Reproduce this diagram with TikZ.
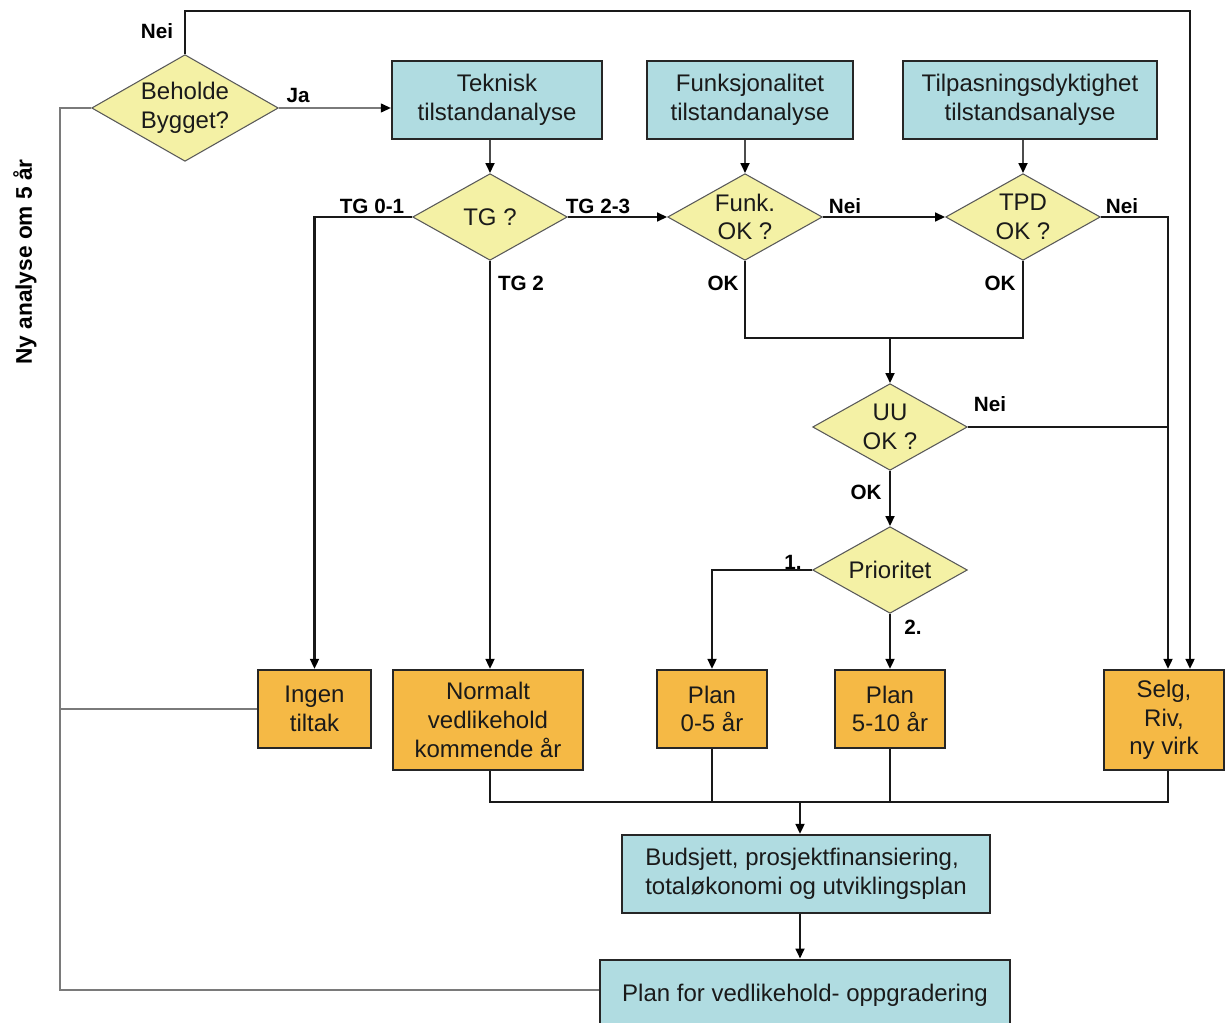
\documentclass[tikz,border=0pt]{standalone}
\usepackage{fontspec}
\setmainfont{Liberation Sans}
\usetikzlibrary{shapes.geometric,arrows.meta}
\definecolor{boxblue}{HTML}{B0DCE1}
\definecolor{dyellow}{HTML}{F4F1A5}
\definecolor{borange}{HTML}{F5B945}
\definecolor{fbgrey}{HTML}{7A7A7A}
\definecolor{inkdark}{HTML}{1A1A1A}

\begin{document}
\begin{tikzpicture}[x=0.75pt,y=-0.75pt,
  boxtext/.style={font=\fontsize{18}{21.5}\selectfont,text=inkdark,align=center},
  bluebox/.style={boxtext,draw=black!85,line width=1.6pt,fill=boxblue,inner sep=0pt},
  orangebox/.style={boxtext,draw=black!85,line width=1.6pt,fill=borange,inner sep=0pt},
  decision/.style={boxtext,diamond,draw=black!65,line width=0.8pt,fill=dyellow,
    inner xsep=-30pt,inner ysep=-20pt,minimum width=116pt,minimum height=65pt},
  lbl/.style={font=\bfseries\fontsize{15.5}{18}\selectfont,text=black,inner sep=0pt},
  tip/.style={-{Triangle[length=7.5pt,width=6.5pt,black]}},
  flow/.style={line width=2pt,draw=black!90},
  arr/.style={flow,tip},
  fb/.style={line width=1.4pt,draw=fbgrey},
]
\clip (0,0) rectangle (1227,1023);
\fill[white] (0,0) rectangle (1227,1023);

% top row: analyses
\node[decision,minimum width=140pt,minimum height=80pt] (beh) at (185,108) {Beholde\\Bygget?};
\node[bluebox,minimum width=157.5pt,minimum height=58pt] (tek) at (497,100) {Teknisk\\tilstandanalyse};
\node[bluebox,minimum width=154.5pt,minimum height=58pt] (funkb) at (750,100) {Funksjonalitet\\tilstandanalyse};
\node[bluebox,minimum width=191pt,minimum height=58pt] (tpdb) at (1030,100) {Tilpasningsdyktighet\\tilstandsanalyse};

% decisions
\node[decision] (tg) at (490,217) {TG ?};
\node[decision] (funk) at (745,217) {Funk.\\OK ?};
\node[decision] (tpd) at (1023,217) {TPD\\OK ?};
\node[decision] (uu) at (890,427) {UU\\OK ?};
\node[decision] (prio) at (890,570) {Prioritet};

% outcomes
\node[orangebox,minimum width=85pt,minimum height=58.5pt] (ingen) at (314.5,709) {Ingen\\tiltak};
\node[orangebox,minimum width=142pt,minimum height=75pt] (normalt) at (488,720) {Normalt\\vedlikehold\\kommende år};
\node[orangebox,minimum width=83pt,minimum height=58.5pt] (plan1) at (712,709) {Plan\\0-5 år};
\node[orangebox,minimum width=82.5pt,minimum height=58.5pt] (plan2) at (890,709) {Plan\\5-10 år};
\node[orangebox,minimum width=90pt,minimum height=75pt] (selg) at (1164,720) {Selg,\\Riv,\\ny virk};

% summary boxes
\node[bluebox,minimum width=276pt,minimum height=58.5pt,align=left] (bud) at (806,874) {Budsjett, prosjektfinansiering,\\totaløkonomi og utviklingsplan};
\node[bluebox,minimum width=307.5pt,minimum height=56pt] (plan) at (805,997) {\raisebox{6pt}{Plan for vedlikehold- oppgradering}};

% routing points
\coordinate (nx) at (1190,11);
\coordinate (rj) at (1168,427);
\coordinate (okj) at (890,338);
\coordinate (bj) at (800,802);
\coordinate (fl) at (60,990);

% Nei: leave the building
\draw[arr] (beh.north) |- (nx) -- (nx |- selg.north);
% Ja: start the analyses
\draw[fb,tip] (beh.east) -- (beh.east -| tek.west);

% analyses into decisions
\draw[arr,draw=black!70] (tek.south -| tg.north) -- (tg.north);
\draw[arr,draw=black!70] (funkb.south -| funk.north) -- (funk.north);
\draw[arr,draw=black!70] (tpdb.south -| tpd.north) -- (tpd.north);

% technical condition branches
\draw[arr] (tg.west) -| (ingen.north);
\draw[arr] (tg.south) -- (tg.south |- normalt.north);
\draw[arr] (tg.east) -- (funk.west);
\draw[arr] (funk.east) -- (tpd.west);

% OK branches join into UU
\draw[flow] (funk.south) |- (okj);
\draw[flow] (tpd.south) |- (okj);
\draw[arr] (okj) -- (uu.north);

% Nei branches to sell/demolish
\draw[arr] (tpd.east) -| (rj) -- (rj |- selg.north);
\draw[flow] (uu.east) -- (rj);

% UU ok and priority
\draw[arr] (uu.south) -- (prio.north);
\draw[arr] (prio.west) -| (plan1.north);
\draw[arr] (prio.south) -- (plan2.north);

% collect outcomes into budget
\draw[flow] (normalt.south -| tg.south) -- (tg.south |- bj) -- (rj |- bj) -- (selg.south -| rj);
\draw[flow] (plan1.south) -- (plan1.south |- bj);
\draw[flow] (plan2.south) -- (plan2.south |- bj);
\draw[arr] (bj) -- (bj |- bud.north);
\draw[arr] (bud.south -| bj) -- (bj |- plan.north);

% feedback: new analysis in 5 years
\draw[fb] (beh.west) -| (fl) -- (fl -| plan.west);
\draw[fb] (ingen.west) -- (ingen.west -| fl);

% labels
\node[lbl] (lnei0) at (157,31) {Nei};
\node[lbl] (lja) at (298,95) {Ja};
\node[lbl] (ltg01) at (372,206) {TG 0-1};
\node[lbl] (ltg23) at (598,206) {TG 2-3};
\node[lbl] (ltg2) at (521,283) {TG 2};
\node[lbl] (lnei1) at (845,206) {Nei};
\node[lbl] (lok1) at (723,283) {OK};
\node[lbl] (lok2) at (1000,283) {OK};
\node[lbl] (lnei2) at (1122,206) {Nei};
\node[lbl] (lnei3) at (990,404) {Nei};
\node[lbl] (lok3) at (866,492) {OK};
\node[lbl] (l1) at (793,562) {1.};
\node[lbl] (l2) at (913,627) {2.};
\node[lbl,rotate=90,font=\bfseries\fontsize{17}{19}\selectfont] (ny) at (25,262) {Ny analyse om 5 år};
\end{tikzpicture}
\end{document}
